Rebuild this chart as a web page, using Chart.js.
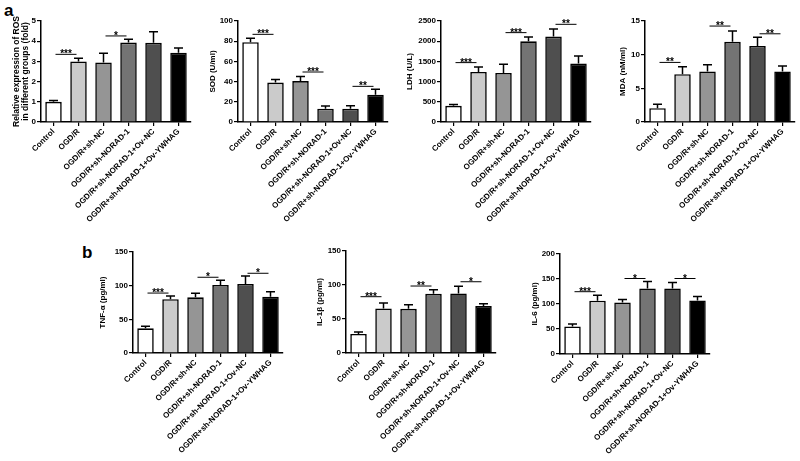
<!DOCTYPE html>
<html><head><meta charset="utf-8">
<script src="https://cdn.jsdelivr.net/npm/chart.js@4.4.1/dist/chart.umd.min.js"></script>
<style>
html,body{margin:0;padding:0;background:#fff;}
body{width:800px;height:461px;overflow:hidden;position:relative;font-family:"Liberation Sans",Arial,sans-serif;}
canvas.c{position:absolute;}
.lab{position:absolute;font-weight:bold;font-size:17px;line-height:17px;color:#000;}
</style></head>
<body>
<div class="lab" style="left:4px;top:2px">a</div>
<div class="lab" style="left:82px;top:244px">b</div>
<script>
// ---------- data ----------
const groups = ['Control','OGD/R','OGD/R+sh-NC','OGD/R+sh-NORAD-1','OGD/R+sh-NORAD-1+Ov-NC','OGD/R+sh-NORAD-1+Ov-YWHAG'];

const rosMean = [1.0, 3.0, 2.95, 3.93, 3.92, 3.43];
const rosErr  = [0.07, 0.16, 0.45, 0.17, 0.55, 0.23];
const rosSig  = [[0,1,3.35,'***'],[2,3,4.26,'*']];

const sodMean = [79, 39, 40.5, 13.2, 13.2, 27];
const sodErr  = [4, 3, 4.5, 2.6, 3, 5.4];
const sodSig  = [[0,1,86.8,'***'],[2,3,49.5,'***'],[4,5,35.3,'**']];

const ldhMean = [400, 1238, 1213, 1997, 2115, 1445];
const ldhErr  = [35, 125, 215, 107, 190, 190];
const ldhSig  = [[0,1,1470,'***'],[2,3,2212,'***'],[4,5,2418,'**']];

const mdaMean = [2.05, 7.1, 7.5, 11.9, 11.3, 7.5];
const mdaErr  = [0.6, 1.1, 1.0, 1.6, 1.3, 0.8];
const mdaSig  = [[0,1,8.85,'**'],[2,3,14.25,'**'],[4,5,13.1,'**']];

const tnfMean = [36.6, 80, 82.7, 101, 102.5, 83.6];
const tnfErr  = [3, 4.5, 6, 7, 12, 7.5];
const tnfSig  = [[0,1,89,'***'],[2,3,112.5,'*'],[4,5,118.4,'*']];

const il1Mean = [28, 65.6, 65, 87, 87.5, 69];
const il1Err  = [3, 8, 6, 6, 10.5, 3.5];
const il1Sig  = [[0,1,82.8,'***'],[2,3,98.5,'**'],[4,5,104.8,'*']];

const il6Mean = [55, 106.7, 103, 131, 131, 107];
const il6Err  = [5, 11, 6, 14, 12, 8];
const il6Sig  = [[0,1,124.6,'***'],[2,3,151,'*'],[4,5,151,'*']];

// ---------- style ----------
const F = '"Liberation Sans", Arial, sans-serif';
const barColors = ['#ffffff','#cbcbcb','#959595','#747474','#4f4f4f','#000000'];

const errPlugin = {
  id: 'errsig',
  afterDatasetsDraw(chart, args, opts) {
    const ctx = chart.ctx, ys = chart.scales.y, meta = chart.getDatasetMeta(0);
    ctx.save();
    ctx.strokeStyle = '#000';
    ctx.lineWidth = 1.5;
    opts.err.forEach((e, i) => {
      const b = meta.data[i];
      const v = opts.mean[i];
      const y0 = ys.getPixelForValue(v), y1 = ys.getPixelForValue(v + e);
      ctx.beginPath();
      ctx.moveTo(b.x, y0); ctx.lineTo(b.x, y1);
      ctx.moveTo(b.x - 4.5, y1); ctx.lineTo(b.x + 4.5, y1);
      ctx.stroke();
    });
    ctx.lineWidth = 1;
    ctx.fillStyle = '#000';
    ctx.font = 'bold 10px ' + F;
    ctx.textAlign = 'center';
    ctx.textBaseline = 'alphabetic';
    opts.sig.forEach(([i, j, v, t]) => {
      const y = ys.getPixelForValue(v);
      const x0 = meta.data[i].x + 2, x1 = meta.data[j].x - 2;
      ctx.beginPath(); ctx.moveTo(x0, y); ctx.lineTo(x1, y); ctx.stroke();
      ctx.fillText(t, (x0 + x1) / 2, y + 3);
    });
    ctx.restore();
  }
};

function makePanel(p) {
  const yW = Math.min(p.left, 70);
  const canvasLeft = p.left - yW;
  const padTop = 15, padRight = 16, xH = 110;
  const W = yW + 150 + padRight;
  const H = padTop + p.height + xH;
  const cv = document.createElement('canvas');
  cv.className = 'c';
  cv.width = W; cv.height = H;
  cv.style.left = canvasLeft + 'px';
  cv.style.top = (p.top - padTop) + 'px';
  cv.style.width = W + 'px'; cv.style.height = H + 'px';
  document.body.appendChild(cv);
  const tSize = p.titleSize || 8;
  const lh = p.lineH || 1.2;
  const titlePad = p.titleX - canvasLeft - tSize * lh / 2;
  new Chart(cv, {
    type: 'bar',
    data: { labels: groups, datasets: [{ data: p.mean, backgroundColor: barColors, borderColor: '#000', borderWidth: 1.6, barPercentage: 0.66, categoryPercentage: 1 }] },
    options: {
      responsive: false, animation: false, devicePixelRatio: 1,
      layout: { padding: { top: padTop, right: padRight, left: 0, bottom: 0 } },
      plugins: { legend: { display: false }, tooltip: { enabled: false }, errsig: { mean: p.mean, err: p.err, sig: p.sig } },
      scales: {
        x: {
          grid: { display: true, drawOnChartArea: false, offset: false, tickLength: 4, color: '#000', lineWidth: 1.2 },
          border: { display: true, color: '#000', width: 1.5 },
          ticks: { minRotation: 45, maxRotation: 45, autoSkip: false, color: '#000', padding: 1, font: { family: F, size: 8, weight: 'bold' } },
          afterFit: s => { s.height = xH; }
        },
        y: {
          min: 0, max: p.max,
          grid: { display: true, drawOnChartArea: false, tickLength: 4, color: '#000', lineWidth: 1.2 },
          border: { display: true, color: '#000', width: 1.5 },
          ticks: { stepSize: p.step, color: '#000', padding: 1, font: { family: F, size: 8, weight: 'bold' }, callback: v => String(v) },
          title: { display: true, text: p.title, color: '#000', padding: { top: titlePad, bottom: 0 }, font: { family: F, size: tSize, weight: 'bold', lineHeight: lh } },
          afterFit: s => { s.width = yW; }
        }
      }
    },
    plugins: [errPlugin]
  });
}

makePanel({ mean: rosMean, err: rosErr, sig: rosSig, title: ['Relative expression of ROS','in different groups (fold)'], max: 5, step: 1, left: 41, top: 21, height: 101, titleX: 17, titleSize: 8.5, lineH: 1.05 });
makePanel({ mean: sodMean, err: sodErr, sig: sodSig, title: 'SOD (U/ml)', max: 100, step: 20, left: 238, top: 21, height: 101, titleX: 213 });
makePanel({ mean: ldhMean, err: ldhErr, sig: ldhSig, title: 'LDH (U/L)', max: 2500, step: 500, left: 441, top: 21, height: 101, titleX: 410 });
makePanel({ mean: mdaMean, err: mdaErr, sig: mdaSig, title: 'MDA (nM/ml)', max: 15, step: 5, left: 645, top: 21, height: 101, titleX: 623 });
makePanel({ mean: tnfMean, err: tnfErr, sig: tnfSig, title: 'TNF-α (pg/ml)', max: 150, step: 50, left: 133, top: 252, height: 101, titleX: 103 });
makePanel({ mean: il1Mean, err: il1Err, sig: il1Sig, title: 'IL-1β (pg/ml)', max: 150, step: 50, left: 346, top: 251, height: 102, titleX: 320 });
makePanel({ mean: il6Mean, err: il6Err, sig: il6Sig, title: 'IL-6 (pg/ml)', max: 200, step: 50, left: 560, top: 254, height: 100, titleX: 535 });
</script>
</body></html>
